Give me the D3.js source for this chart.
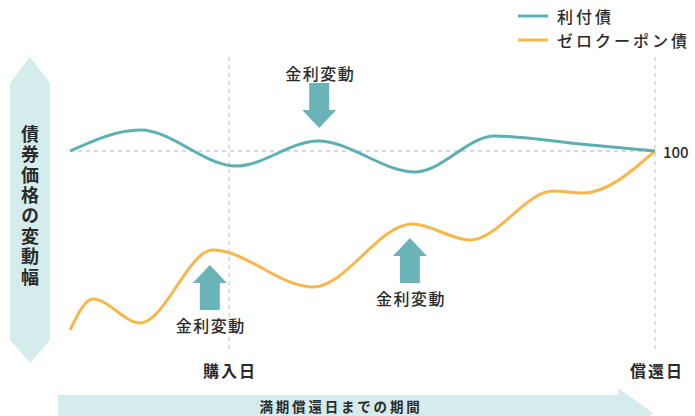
<!DOCTYPE html>
<html>
<head>
<meta charset="utf-8">
<script src="https://cdn.jsdelivr.net/npm/d3@7"></script>
<style>
	body { margin: 0; background: #fff; }
	text { font-family: "Noto Sans CJK JP", "Noto Sans", sans-serif; fill: #2b2b2b; }
</style>
</head>
<body>
<div id="graph"></div>
<script>
// 時間軸: 0 = 発行, 100 = 償還日
var couponX = [0, 12, 28.4, 42.4, 59, 72.6, 87.2, 100];
var couponY = [100, 104.2, 97, 102, 95.8, 103, 101.4, 100];
var zeroX = [0, 3.9, 12, 24.4, 41.5, 58.5, 68.4, 82.6, 87.7, 100];
var zeroY = [64.2, 70.4, 65.6, 80.2, 72.8, 85.4, 82.2, 92, 91.6, 100];
var purchaseX = 27.2;
var maturityX = 100;
var parValue = 100;
var seriesNames = ["利付債", "ゼロクーポン債"];
// 金利変動の矢印 (x, 矢印先端の値, 向き)
var rateArrows = [
	{x: 42.6, tip: 104.6, dir: "down"},
	{x: 23.9, tip: 77.2, dir: "up"},
	{x: 58.1, tip: 82.6, dir: "up"}
];

var w = 695, h = 416;
var teal = "#5cb0b3", orange = "#f8b74a", arrowTeal = "#6ab4b7", pale = "#d5ecec";

var xScale = d3.scaleLinear().domain([0, 100]).range([70, 655]);
var yScale = d3.scaleLinear().domain([100, 60]).range([151, 351]);

var svg = d3.select("#graph").append("svg")
	.attr("width", w)
	.attr("height", h);

// 縦の矢印 (債券価格の変動幅)
svg.append("path")
	.attr("d", "M30,57 L50,83 L50,340 L30,363 L10,340 L10,83 Z")
	.attr("fill", pale);

svg.append("text")
	.attr("x", 30)
	.attr("y", 125)
	.attr("style", "writing-mode: vertical-rl")
	.attr("font-size", 18)
	.attr("font-weight", "bold")
	.attr("letter-spacing", 2.4)
	.text("債券価格の変動幅");

// 横の矢印 (満期償還日までの期間)
svg.append("path")
	.attr("d", "M58,395 L618,395 L618,388 L653,413 L618,438 L618,431 L58,431 Z")
	.attr("fill", pale);

svg.append("text")
	.attr("x", 341)
	.attr("y", 406)
	.attr("text-anchor", "middle")
	.attr("dominant-baseline", "central")
	.attr("font-size", 13.5)
	.attr("font-weight", "bold")
	.attr("letter-spacing", 2.8)
	.text("満期償還日までの期間");

// 破線
var dash = "#c9cdd9";
[purchaseX, maturityX].forEach(function (v) {
	svg.append("line")
		.attr("x1", xScale(v)).attr("x2", xScale(v))
		.attr("y1", 57).attr("y2", 352)
		.attr("stroke", dash)
		.attr("stroke-width", 1.3)
		.attr("stroke-dasharray", "4,4");
});
svg.append("line")
	.attr("x1", xScale(0)).attr("x2", xScale(maturityX))
	.attr("y1", yScale(parValue)).attr("y2", yScale(parValue))
	.attr("stroke", dash)
	.attr("stroke-width", 1.3)
	.attr("stroke-dasharray", "4,4");

// 線
var line = d3.line()
	.x(function (d) { return xScale(d[0]); })
	.y(function (d) { return yScale(d[1]); })
	.curve(d3.curveMonotoneX);

svg.append("path")
	.datum(d3.zip(zeroX, zeroY))
	.attr("d", line)
	.attr("fill", "none")
	.attr("stroke", orange)
	.attr("stroke-width", 3);

svg.append("path")
	.datum(d3.zip(couponX, couponY))
	.attr("d", line)
	.attr("fill", "none")
	.attr("stroke", teal)
	.attr("stroke-width", 3);

// 金利変動の矢印
rateArrows.forEach(function (a) {
	var cx = xScale(a.x), ty = yScale(a.tip);
	var s = a.dir == "down" ? -1 : 1;   // 下向きは反転
	var headY = ty + s * 18, tailY = ty + s * 45;
	var p = "M" + cx + "," + ty +
		" L" + (cx + 17) + "," + headY +
		" L" + (cx + 10) + "," + headY +
		" L" + (cx + 10) + "," + tailY +
		" L" + (cx - 10) + "," + tailY +
		" L" + (cx - 10) + "," + headY +
		" L" + (cx - 17) + "," + headY + " Z";
	svg.append("path").attr("d", p).attr("fill", arrowTeal);
	svg.append("text")
		.attr("x", cx + 1)
		.attr("y", a.dir == "down" ? ty - 55 : tailY + 15)
		.attr("text-anchor", "middle")
		.attr("dominant-baseline", "central")
		.attr("font-size", 16)
		.attr("font-weight", 500)
		.attr("letter-spacing", 1.5)
		.text("金利変動");
});

// 軸ラベル
svg.append("text")
	.attr("x", xScale(purchaseX) + 1)
	.attr("y", 370)
	.attr("text-anchor", "middle")
	.attr("dominant-baseline", "central")
	.attr("font-size", 16)
	.attr("font-weight", "bold")
	.attr("letter-spacing", 2)
	.text("購入日");

svg.append("text")
	.attr("x", xScale(maturityX) + 2)
	.attr("y", 370)
	.attr("text-anchor", "middle")
	.attr("dominant-baseline", "central")
	.attr("font-size", 16)
	.attr("font-weight", "bold")
	.attr("letter-spacing", 2)
	.text("償還日");

svg.append("text")
	.attr("x", xScale(maturityX) + 8)
	.attr("y", yScale(parValue))
	.attr("dominant-baseline", "central")
	.attr("font-size", 15)
	.attr("font-weight", 500)
	.text(parValue);

// 凡例
var legendColors = [teal, orange];
var legend = svg.selectAll(".legend").data(seriesNames).enter()
	.append("g")
	.attr("class", "legend")
	.attr("transform", function (d, i) { return "translate(518," + (16 + i * 24) + ")"; });
legend.append("line")
	.attr("x1", 0).attr("x2", 30)
	.attr("stroke", function (d, i) { return legendColors[i]; })
	.attr("stroke-width", 3);
legend.append("text")
	.attr("x", 39)
	.attr("dominant-baseline", "central")
	.attr("font-size", 16)
	.attr("font-weight", 500)
	.attr("letter-spacing", 3)
	.text(function (d) { return d; });
</script>
</body>
</html>
